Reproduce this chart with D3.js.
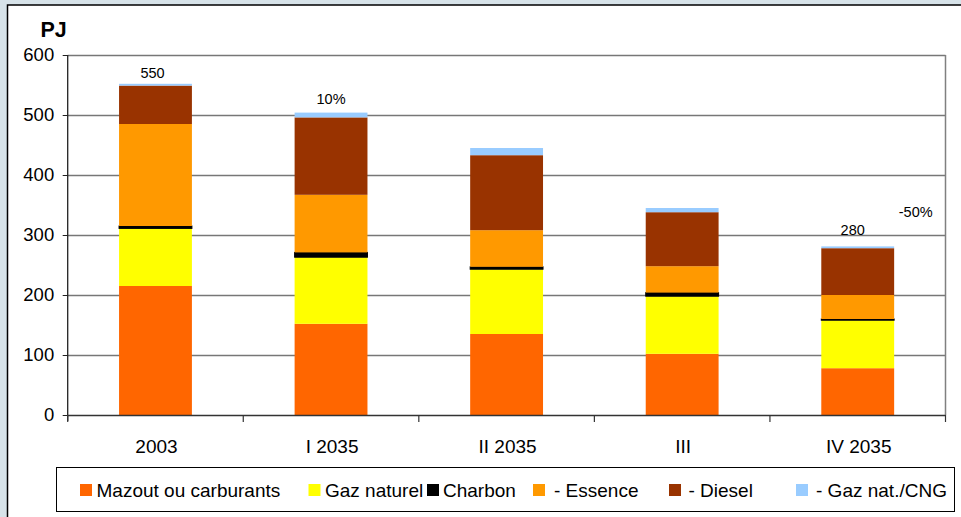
<!DOCTYPE html>
<html>
<head>
<meta charset="utf-8">
<script src="https://cdn.jsdelivr.net/npm/d3@7"></script>
<style>
  html, body { margin: 0; padding: 0; background: #d7e3e9; }
  svg { display: block; font-family: "Liberation Sans", Arial, sans-serif; }
</style>
</head>
<body>
<svg id="chart" width="961" height="517"></svg>
<script>
// ---- data ----
const categories = ["2003", "I 2035", "II 2035", "III", "IV 2035"];
const seriesNames = ["Mazout ou carburants", "Gaz naturel", "Charbon", "- Essence", "- Diesel", "- Gaz nat./CNG"];
const mazout   = [215, 152, 135, 102, 78];
const gazNat   = [96, 111, 108, 96, 80];
const charbon  = [4, 8, 4, 6, 2];
const essence  = [170, 96, 61, 44, 40];
const diesel   = [64, 129, 125, 90, 78];
const cng      = [3, 8, 12, 7, 3];
const yTicks   = [0, 100, 200, 300, 400, 500, 600];
const annoCats   = ["2003", "I 2035", "IV 2035", "IV 2035"];
const annoTexts  = ["550", "10%", "280", "-50%"];
const annoValues = [561, 518, 300, 329.5];

// ---- styles / layout ----
const colors = ["#FF6600", "#FFFF00", "#000000", "#FF9900", "#993300", "#99CCFF"];
const annoDx = [-3, 0, -5, 58];
const legendSwatchX = [80, 308.5, 427, 533, 669, 796];
const legendTextX   = [96.5, 325, 443, 554, 688.5, 816];

const svg = d3.select("#chart");
const plot = { left: 67.7, right: 945.5, top: 55, bottom: 415 };

// background panel
svg.append("rect").attr("x", 0).attr("y", 0).attr("width", 961).attr("height", 517).attr("fill", "#d7e3e9");
svg.append("rect").attr("x", 7.5).attr("y", 5).attr("width", 1100).attr("height", 700)
  .attr("fill", "#ffffff").attr("stroke", "#000").attr("stroke-width", 1.5);

const x = d3.scaleBand().domain(categories).range([plot.left, plot.right])
  .paddingInner(0.585).paddingOuter(0.2925);
const y = d3.scaleLinear().domain([0, 600]).range([plot.bottom, plot.top]);

// gridlines
svg.append("g").selectAll("line").data(yTicks.filter(d => d > 0)).join("line")
  .attr("x1", plot.left).attr("x2", plot.right)
  .attr("y1", d => y(d) + 0.5).attr("y2", d => y(d) + 0.5)
  .attr("stroke", "#777").attr("stroke-width", 1.5);
// plot-area right border
svg.append("line").attr("x1", plot.right).attr("x2", plot.right)
  .attr("y1", plot.top).attr("y2", plot.bottom)
  .attr("stroke", "#808080").attr("stroke-width", 1.5);

// stacked bars
const table = categories.map((c, i) => ({
  cat: c, s0: mazout[i], s1: gazNat[i], s2: charbon[i], s3: essence[i], s4: diesel[i], s5: cng[i]
}));
const keys = ["s0", "s1", "s2", "s3", "s4", "s5"];
const stacked = d3.stack().keys(keys)(table);

svg.append("g").selectAll("g").data(stacked).join("g")
  .attr("fill", (d, i) => colors[i])
  .attr("stroke", (d, i) => i === 2 ? "#000" : "none")
  .attr("stroke-width", 1)
  .selectAll("rect").data(d => d).join("rect")
  .attr("x", d => x(d.data.cat))
  .attr("width", x.bandwidth())
  .attr("y", d => y(d[1]))
  .attr("height", d => y(d[0]) - y(d[1]));

// y axis
const yAxis = d3.axisLeft(y).tickValues(yTicks).tickSize(5).tickPadding(8.5);
const gy = svg.append("g").attr("transform", `translate(${plot.left},0)`).call(yAxis);
gy.select(".domain").attr("stroke", "#222").attr("stroke-width", 1.3).attr("d", `M0,${plot.top}V${plot.bottom + 6}`);
gy.selectAll(".tick line").attr("stroke", "#222");
gy.selectAll(".tick text").attr("font-size", "18.5px").attr("fill", "#000")
  .attr("font-family", "Liberation Sans, Arial, sans-serif");

// x axis
const gx = svg.append("g").attr("transform", `translate(0,${plot.bottom})`);
gx.append("line").attr("x1", plot.left).attr("x2", plot.right).attr("y1", 0.5).attr("y2", 0.5)
  .attr("stroke", "#333").attr("stroke-width", 1.5);
const boundaries = d3.range(categories.length + 1).map(k => plot.left + k * x.step());
gx.selectAll("line.tk").data(boundaries).join("line").attr("class", "tk")
  .attr("x1", d => d).attr("x2", d => d).attr("y1", 0).attr("y2", 7)
  .attr("stroke", "#333").attr("stroke-width", 1.2);
gx.selectAll("text").data(categories).join("text")
  .attr("x", d => x(d) + x.bandwidth() / 2 + 1)
  .attr("y", 38.3)
  .attr("text-anchor", "middle")
  .attr("font-size", "19px")
  .attr("fill", "#000")
  .text(d => d);

// unit label
svg.append("text").attr("x", 40.5).attr("y", 36.7).attr("font-size", "21.5px").attr("font-weight", "bold")
  .attr("fill", "#000").text("PJ");

// annotations
svg.append("g").selectAll("text").data(annoTexts).join("text")
  .attr("x", (d, i) => x(annoCats[i]) + x.bandwidth() / 2 + annoDx[i])
  .attr("y", (d, i) => y(annoValues[i]))
  .attr("text-anchor", "middle")
  .attr("font-size", "14.5px")
  .attr("fill", "#000")
  .text(d => d);

// legend
const lg = svg.append("g");
lg.append("rect").attr("x", 56.5).attr("y", 467.5).attr("width", 898).attr("height", 44)
  .attr("fill", "#fff").attr("stroke", "#000").attr("stroke-width", 1);
lg.selectAll("rect.sw").data(seriesNames).join("rect").attr("class", "sw")
  .attr("x", (d, i) => legendSwatchX[i]).attr("y", 484)
  .attr("width", 12).attr("height", 12)
  .attr("fill", (d, i) => colors[i]);
lg.selectAll("text").data(seriesNames).join("text")
  .attr("x", (d, i) => legendTextX[i]).attr("y", 496.5)
  .attr("font-size", "19px").attr("fill", "#000")
  .text(d => d);
</script>
</body>
</html>
